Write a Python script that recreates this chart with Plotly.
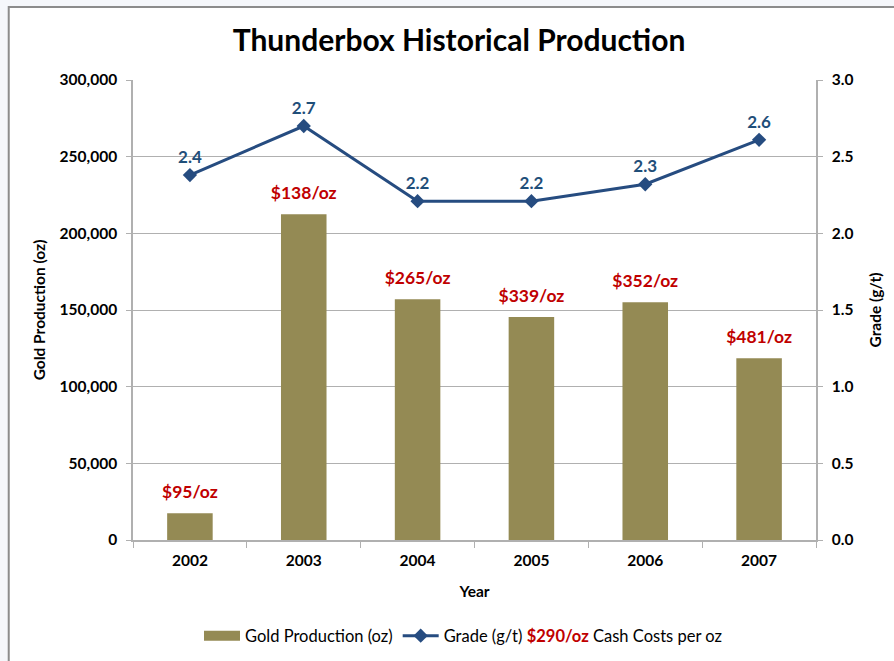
import plotly.graph_objects as go

years = ["2002", "2003", "2004", "2005", "2006", "2007"]
production_oz = [17500, 212500, 157000, 145500, 155000, 118500]
grade_gt = [2.38, 2.70, 2.21, 2.21, 2.32, 2.61]
grade_labels = ["2.4", "2.7", "2.2", "2.2", "2.3", "2.6"]
cash_cost_labels = ["$95/oz", "$138/oz", "$265/oz", "$339/oz", "$352/oz", "$481/oz"]
avg_cash_cost = "$290/oz"

FONT = "Lato"
BAR_COLOR = "#948A54"
LINE_COLOR = "#264C80"
RED = "#C00000"
GRID = "#B0B0B0"
TICK = 15.5

fig = go.Figure()

fig.add_trace(go.Bar(
    x=years, y=production_oz, name="Gold Production (oz)",
    marker=dict(color=BAR_COLOR, line=dict(width=0)),
    yaxis="y", width=0.4, showlegend=False,
))

# cash cost labels above bars
fig.add_trace(go.Scatter(
    x=years, y=production_oz, mode="markers+text",
    marker=dict(size=16, opacity=0),
    text=cash_cost_labels, texttemplate="<b>%{text}</b>",
    textposition="top center",
    textfont=dict(color=RED, size=17.5, family=FONT),
    showlegend=False, hoverinfo="skip", cliponaxis=False, yaxis="y",
))

# legend entry for the bars (wide swatch)
fig.add_trace(go.Scatter(
    x=[None], y=[None], mode="lines", name="Gold Production (oz)",
    line=dict(color=BAR_COLOR, width=11),
))

fig.add_trace(go.Scatter(
    x=years, y=grade_gt,
    name=("Grade (g/t) <b><span style='color:%s'>%s</span></b> Cash Costs per oz" % (RED, avg_cash_cost)),
    mode="lines+markers+text",
    line=dict(color=LINE_COLOR, width=3),
    marker=dict(symbol="diamond", size=11, color=LINE_COLOR),
    text=grade_labels, texttemplate="<b>%{text}</b>",
    textposition="top center",
    textfont=dict(color="#1F4E79", size=17, family=FONT),
    yaxis="y2", cliponaxis=False,
))

fig.update_layout(
    width=894, height=661,
    margin=dict(l=133, r=74, t=80, b=121),
    paper_bgcolor="#F5F7FB",
    plot_bgcolor="white",
    font=dict(family=FONT, color="#000000", size=TICK),
    title=dict(text="<b>Thunderbox Historical Production</b>",
               x=459/894, xanchor="center", y=1-40/661, yanchor="middle",
               font=dict(size=30, family=FONT, color="#000000")),
    xaxis=dict(
        title=dict(text="<b>Year</b>", font=dict(size=TICK), standoff=18),
        tickfont=dict(size=TICK),
        tickprefix="<b>", ticksuffix="</b>",
        showline=True, linecolor=GRID, linewidth=1.5,
        ticks="outside", tickson="boundaries", ticklen=6, tickcolor=GRID,
        ticklabelstandoff=6,
        showgrid=False,
    ),
    yaxis=dict(
        title=dict(text="<b>Gold Production (oz)</b>", font=dict(size=TICK), standoff=10),
        range=[0, 300000], dtick=50000, tickformat=",d",
        tickprefix="<b>", ticksuffix="</b>",
        tickfont=dict(size=TICK),
        showline=True, linecolor=GRID, linewidth=1.5,
        ticks="outside", ticklen=5, tickcolor=GRID,
        ticklabelstandoff=6,
        showgrid=True, gridcolor=GRID, gridwidth=1,
        zeroline=False,
    ),
    yaxis2=dict(
        title=dict(text="<b>Grade (g/t)</b>", font=dict(size=TICK), standoff=18),
        range=[0, 3.0], dtick=0.5, tickformat=".1f",
        tickprefix="<b>", ticksuffix="</b>",
        tickfont=dict(size=TICK),
        overlaying="y", side="right",
        showline=True, linecolor=GRID, linewidth=1.5,
        ticks="outside", ticklen=5, tickcolor=GRID,
        ticklabelstandoff=6,
        showgrid=False, zeroline=False,
    ),
    legend=dict(orientation="h", x=463/894, xanchor="center",
                y=25/661, yanchor="middle",
                xref="container", yref="container",
                font=dict(size=16.5), itemwidth=36,
                traceorder="normal", bgcolor="rgba(0,0,0,0)"),
    bargap=0.6,
    showlegend=True,
)

# outer chart frame (white box with gray border)
fig.add_shape(type="rect", xref="paper", yref="paper",
              x0=(8-133)/687, x1=(900-133)/687,
              y0=(540-670)/460, y1=(540-7)/460,
              line=dict(color="#8C8C8C", width=2), fillcolor="white", layer="below")

fig.write_html("out.html", config={"displayModeBar": False},
               post_script="document.body.style.margin='0';document.body.style.padding='0';")
